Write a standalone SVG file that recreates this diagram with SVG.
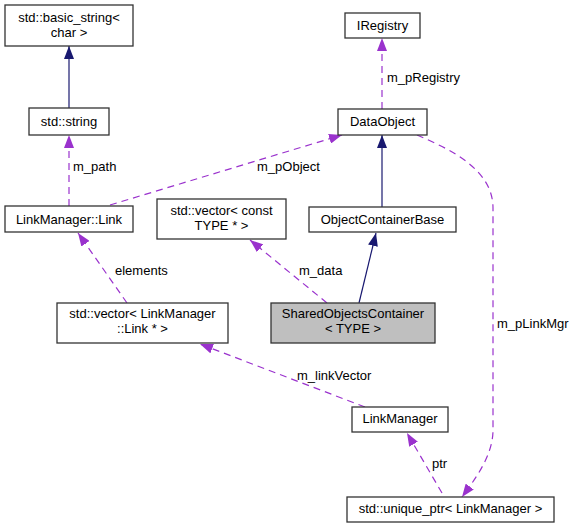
<svg xmlns="http://www.w3.org/2000/svg" width="575" height="528" viewBox="0 0 575 528">
<style>
.node rect{fill:#ffffff;stroke:#333333;stroke-width:1.3}
.node.hl rect{fill:#bfbfbf}
text{font-family:"Liberation Sans",Arial,sans-serif;font-size:13px;fill:#000000}
.node text{text-anchor:middle}
.inh{fill:none;stroke:#191970;stroke-width:1.2}
.use{fill:none;stroke:#9a32cd;stroke-width:1.2;stroke-dasharray:7,5}
</style>
<defs>
<marker id="aNavy" markerUnits="userSpaceOnUse" viewBox="0 0 13 10" refX="13" refY="5" markerWidth="13" markerHeight="10" orient="auto">
<path d="M0,0 L13,5 L0,10 z" fill="#191970"/>
</marker>
<marker id="aPurple" markerUnits="userSpaceOnUse" viewBox="0 0 13 10" refX="13" refY="5" markerWidth="13" markerHeight="10" orient="auto">
<path d="M0,0 L13,5 L0,10 z" fill="#9a32cd"/>
</marker>
</defs>
<rect width="575" height="528" fill="#ffffff"/>
<g id="connectors">
<path class="inh" d="M69,108 L69,46" marker-end="url(#aNavy)"/>
<path class="use" d="M69,206 L69,135" marker-end="url(#aPurple)"/>
<text x="73" y="171">m_path</text>
<path class="use" d="M110,205 L342,135" marker-end="url(#aPurple)"/>
<text x="257" y="171">m_pObject</text>
<path class="use" d="M382,109 L382,38" marker-end="url(#aPurple)"/>
<text x="387" y="82">m_pRegistry</text>
<path class="inh" d="M382,207 L382,135" marker-end="url(#aNavy)"/>
<path class="inh" d="M359,303 L376,233" marker-end="url(#aNavy)"/>
<path class="use" d="M327,303 L250,240" marker-end="url(#aPurple)"/>
<text x="299" y="275">m_data</text>
<path class="use" d="M127,303 L78,233" marker-end="url(#aPurple)"/>
<text x="115" y="275">elements</text>
<path class="use" d="M365,407 L200,344" marker-end="url(#aPurple)"/>
<text x="297" y="380">m_linkVector</text>
<path class="use" d="M442,493 L407,433" marker-end="url(#aPurple)"/>
<text x="432" y="468">ptr</text>
<path class="use" d="M417,135 C452,150 493,170 493,208 L493,430 C493,455 476,478 462,497" marker-end="url(#aPurple)"/>
<text x="497" y="328">m_pLinkMgr</text>
</g>
<g id="node-basic_string" class="node">
<rect x="5" y="5" width="128" height="41"/>
<text x="69" y="22">std::basic_string&lt;</text>
<text x="69" y="37">char &gt;</text>
</g>
<g id="node-string" class="node">
<rect x="29" y="108" width="80" height="27"/>
<text x="69" y="126">std::string</text>
</g>
<g id="node-IRegistry" class="node">
<rect x="345" y="13" width="75" height="25"/>
<text x="382.5" y="30">IRegistry</text>
</g>
<g id="node-DataObject" class="node">
<rect x="338" y="109" width="89" height="26"/>
<text x="382.5" y="126">DataObject</text>
</g>
<g id="node-Link" class="node">
<rect x="5" y="206" width="128" height="26"/>
<text x="69" y="224">LinkManager::Link</text>
</g>
<g id="node-vector_const" class="node">
<rect x="157" y="199" width="129" height="40"/>
<text x="221.5" y="215">std::vector&lt; const</text>
<text x="221.5" y="230">TYPE * &gt;</text>
</g>
<g id="node-ObjectContainerBase" class="node">
<rect x="309" y="207" width="147" height="25"/>
<text x="382.5" y="224">ObjectContainerBase</text>
</g>
<g id="node-vector_link" class="node">
<rect x="57" y="303" width="171" height="40"/>
<text x="142.5" y="318">std::vector&lt; LinkManager</text>
<text x="142.5" y="333">::Link * &gt;</text>
</g>
<g id="node-SharedObjectsContainer" class="node hl">
<rect x="271" y="303" width="164" height="40"/>
<text x="353" y="318">SharedObjectsContainer</text>
<text x="353" y="333">&lt; TYPE &gt;</text>
</g>
<g id="node-LinkManager" class="node">
<rect x="352" y="407" width="96" height="25"/>
<text x="400" y="423">LinkManager</text>
</g>
<g id="node-unique_ptr" class="node">
<rect x="347" y="497" width="207" height="25"/>
<text x="450.5" y="513">std::unique_ptr&lt; LinkManager &gt;</text>
</g>
</svg>
